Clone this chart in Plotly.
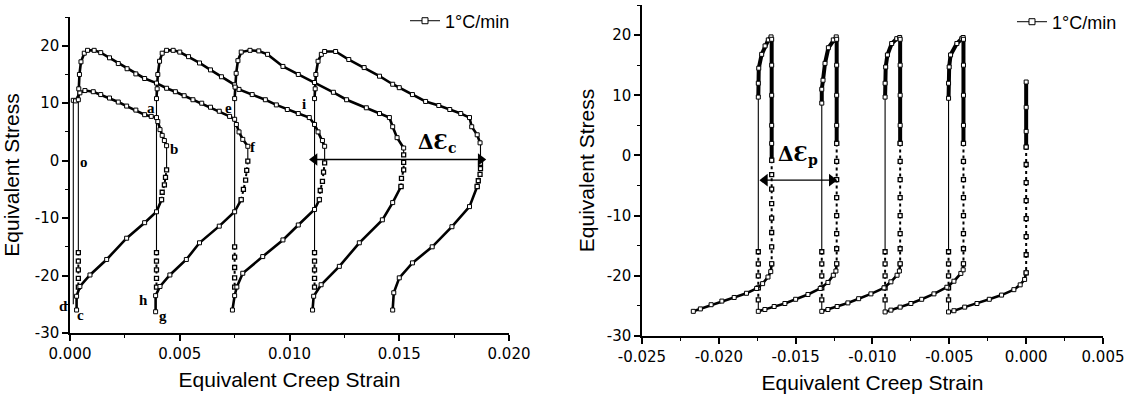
import plotly.graph_objects as go

N = None
# ---------------- Left panel (creep strain > 0) ----------------
# descending branches (stress relaxation), segments separated by None
L_desc_x = [0.00015, 0.00025, 0.00045, 0.00068, 0.00106, 0.0014, 0.0018, 0.0022, 0.00258, 0.0030, 0.0034, 0.0037, 0.00394, 0.0040, 0.0041, 0.0042, 0.0043, 0.0044, N,
            0.00038, 0.0004, 0.00043, 0.0005, 0.00065, 0.0008, 0.0011, 0.0014, 0.0018, 0.0022, 0.0026, 0.0030, 0.0034, 0.00394, 0.0044, 0.0048, 0.0052, 0.0056, 0.0060, 0.0064, 0.0068, 0.00727, 0.0075, 0.00758, 0.0077, 0.00787, 0.0081, N,
            0.00394, 0.00397, 0.0040, 0.00408, 0.0042, 0.0044, 0.0047, 0.0050, 0.0054, 0.0059, 0.0064, 0.0069, 0.0075, 0.0077, 0.0083, 0.0089, 0.0094, 0.0099, 0.0104, 0.0109, 0.01114, 0.0113, 0.0115, 0.0116, N,
            0.0075, 0.00752, 0.00757, 0.00765, 0.0078, 0.0082, 0.0086, 0.0090, 0.0097, 0.0104, 0.01114, 0.0120, 0.0126, 0.0135, 0.0141, 0.01455, 0.0147, 0.0149, 0.0152, N,
            0.01114, 0.01117, 0.0112, 0.0113, 0.01145, 0.0116, 0.0121, 0.0127, 0.0134, 0.0141, 0.0147, 0.0150, 0.0156, 0.0162, 0.0168, 0.0173, 0.0178, 0.0182, 0.0183, 0.01855, 0.01868]
L_desc_y = [10.5, 10.4, 11.8, 12.2, 12.0, 11.5, 10.9, 10.2, 9.5, 8.8, 8.0, 7.7, 7.5, 6.8, 5.4, 4.4, 3.5, 2.6, N,
            10.6, 12.5, 15.0, 17.2, 18.7, 19.2, 19.2, 18.8, 17.9, 16.9, 16.0, 15.1, 14.3, 13.5, 12.6, 12.0, 11.3, 10.6, 10.0, 9.3, 8.6, 7.7, 7.2, 6.3, 5.0, 3.7, 2.5, N,
            10.8, 12.5, 15.0, 17.3, 18.7, 19.2, 19.2, 18.9, 18.1, 17.0, 15.8, 14.6, 13.2, 12.4, 11.5, 10.6, 9.7, 8.9, 8.2, 7.5, 6.3, 5.0, 3.5, 2.5, N,
            10.8, 12.8, 15.2, 17.4, 18.9, 19.2, 19.1, 18.5, 16.4, 15.0, 13.6, 11.9, 10.6, 9.2, 8.2, 7.5, 5.9, 4.0, 2.2, N,
            10.8, 12.5, 15.0, 17.3, 18.5, 19.0, 19.0, 17.6, 16.2, 14.7, 13.3, 12.7, 11.5, 10.3, 9.6, 8.9, 8.2, 7.5, 5.9, 4.5, 3.1]
# rising branches (cooling)
L_rise_x = [0.0003, 0.0003, 0.00045, 0.00091, 0.00167, 0.00258, 0.0034, 0.00394, 0.00417, N,
            0.0039, 0.0039, 0.0041, 0.00455, 0.0053, 0.0059, 0.0068, 0.0075, 0.0078, N,
            0.0074, 0.0075, 0.0076, 0.00787, 0.00878, 0.0097, 0.0104, 0.01114, 0.01136, N,
            0.01105, 0.0111, 0.01144, 0.01227, 0.01318, 0.01423, 0.0147, 0.01508, N,
            0.0147, 0.01475, 0.0150, 0.0156, 0.0165, 0.0174, 0.0182, 0.01855]
L_rise_y = [-26.0, -23.6, -21.9, -19.9, -17.2, -13.5, -10.8, -8.9, -6.8, N,
            -26.3, -23.5, -21.9, -19.9, -17.2, -14.3, -11.4, -8.9, -6.8, N,
            -26.0, -23.5, -22.0, -19.6, -16.7, -13.8, -11.2, -8.5, -6.8, N,
            -26.0, -23.6, -21.6, -18.4, -14.3, -10.3, -7.3, -4.5, N,
            -26.0, -23.0, -20.4, -17.8, -15.0, -11.5, -8.0, -4.5]
# thin solid vertical parts
L_thin_x = [0.00015, 0.00015, N, 0.00038, 0.00038, N, 0.00394, 0.00394, N, 0.0075, 0.0075, N, 0.01114, 0.01114, N,
            0.0044, 0.0044, N, 0.0081, 0.0081, N, 0.0116, 0.0116, N, 0.0152, 0.0152, N, 0.0187, 0.0187]
L_thin_y = [10.5, -25.0, N, 10.6, -16.0, N, 13.5, -16.0, N, 13.2, -15.0, N, 13.6, -16.0, N,
            -1.6, 2.6, N, -0.1, 2.5, N, -0.4, 2.5, N, 1.0, 2.2, N, -0.5, 3.1]
# dotted parts
L_dot_x = [0.00038, 0.00038, 0.00038, 0.00038, 0.00038, N,
           0.00394, 0.00394, 0.00394, 0.00394, 0.00394, N,
           0.0075, 0.0075, 0.0075, 0.0075, 0.0075, N,
           0.01114, 0.01114, 0.01114, 0.01114, 0.01114, N,
           0.00417, 0.0042, 0.0043, 0.00435, 0.0044, N,
           0.0078, 0.0079, 0.0080, 0.00805, 0.0081, N,
           0.01136, 0.0114, 0.0115, 0.01155, 0.0116, N,
           0.01508, 0.0151, 0.0152, 0.0152, 0.0152, N,
           0.01855, 0.0186, 0.01868, 0.0187, 0.0187]
L_dot_y = [-16.0, -17.5, -19.0, -20.5, -22.0, N,
           -16.0, -17.5, -19.0, -20.5, -22.0, N,
           -15.0, -16.8, -18.6, -20.4, -22.0, N,
           -16.0, -17.5, -19.0, -20.5, -22.0, N,
           -6.8, -5.5, -4.2, -2.9, -1.6, N,
           -6.8, -5.0, -3.4, -1.7, -0.1, N,
           -6.8, -5.2, -3.6, -2.0, -0.4, N,
           -4.5, -3.1, -1.6, -0.3, 1.0, N,
           -4.5, -3.5, -2.4, -1.4, -0.5]

# ---------------- Right panel (creep strain < 0) ----------------
R_thick_x = [-0.01743, -0.01743, -0.0174, -0.01721, -0.01699, -0.01678, -0.0166, -0.01656, -0.01656, -0.01656, -0.01656, -0.01656, -0.01656, N,
             -0.0133, -0.0133, -0.01322, -0.01309, -0.01287, -0.01255, -0.01236, -0.01233, -0.01233, -0.01233, -0.01233, -0.01233, N,
             -0.00918, -0.00918, -0.00914, -0.00903, -0.00875, -0.00842, -0.00823, -0.0082, -0.0082, -0.0082, -0.0082, -0.0082, N,
             -0.00505, -0.00505, -0.00501, -0.00492, -0.00451, -0.00419, -0.0041, -0.00408, -0.00408, -0.00408, -0.00408, -0.00408, N,
             0.0, 0.0, 0.0, 0.0]
R_thick_y = [9.7, 12.0, 14.5, 16.8, 18.2, 19.2, 19.7, 19.3, 15.0, 10.0, 5.0, 2.0, -0.8, N,
             8.7, 11.0, 12.5, 15.3, 17.9, 19.2, 19.7, 19.3, 15.0, 10.0, 5.0, 2.0, N,
             9.7, 12.0, 14.7, 16.7, 18.6, 19.4, 19.6, 19.3, 15.0, 10.0, 5.0, 2.0, N,
             9.5, 12.0, 14.7, 16.7, 18.6, 19.4, 19.6, 19.3, 15.0, 10.0, 5.0, 2.0, N,
             12.2, 8.0, 4.0, 1.4]
R_rise_x = [-0.02166, -0.0212, -0.0205, -0.0198, -0.0190, -0.0182, -0.01754, -0.01715, -0.0168, -0.01662, -0.01656, N,
            -0.01743, -0.0170, -0.0164, -0.0157, -0.0150, -0.0142, -0.0134, -0.0129, -0.01255, -0.01238, -0.01233, N,
            -0.0133, -0.0129, -0.0123, -0.0116, -0.0109, -0.0101, -0.00925, -0.0088, -0.0084, -0.00825, -0.0082, N,
            -0.00918, -0.0088, -0.0082, -0.0075, -0.0068, -0.0060, -0.00516, -0.0047, -0.00425, -0.0041, -0.00408, N,
            -0.00505, -0.0047, -0.0040, -0.0032, -0.0024, -0.0016, -0.0008, -0.00039, -0.0001, 0.0]
R_rise_y = [-25.9, -25.5, -24.8, -24.2, -23.6, -22.9, -22.1, -21.3, -20.2, -19.3, -18.0, N,
            -25.9, -25.6, -25.1, -24.6, -23.9, -23.1, -22.1, -21.1, -19.9, -19.2, -18.0, N,
            -25.9, -25.6, -25.1, -24.5, -23.8, -23.0, -22.0, -21.0, -19.9, -19.2, -18.0, N,
            -26.0, -25.7, -25.2, -24.6, -23.9, -23.0, -21.9, -20.9, -19.6, -19.0, -18.0, N,
            -26.0, -25.8, -25.2, -24.6, -23.9, -23.2, -22.3, -21.5, -20.6, -19.5]
R_thin_x = [-0.01743, -0.01743, N, -0.0133, -0.0133, N, -0.00918, -0.00918, N, -0.00505, -0.00505, N,
            -0.01743, -0.01743, N, -0.0133, -0.0133, N, -0.00918, -0.00918, N, -0.00505, -0.00505]
R_thin_y = [9.7, -16.0, N, 8.7, -16.0, N, 9.7, -16.0, N, 9.5, -16.0, N,
            -24.0, -25.9, N, -24.0, -25.9, N, -24.0, -26.0, N, -24.0, -26.0]
R_dot_x = [-0.01743, -0.01743, -0.01743, -0.01743, -0.01743, N,
           -0.0133, -0.0133, -0.0133, -0.0133, -0.0133, N,
           -0.00918, -0.00918, -0.00918, -0.00918, -0.00918, N,
           -0.00505, -0.00505, -0.00505, -0.00505, -0.00505, N,
           -0.01656, -0.01656, -0.01656, -0.01656, -0.01656, -0.01656, -0.01656, -0.01656, N,
           -0.01233, -0.01233, -0.01233, -0.01233, -0.01233, -0.01233, -0.01233, -0.01233, N,
           -0.0082, -0.0082, -0.0082, -0.0082, -0.0082, -0.0082, -0.0082, -0.0082, N,
           -0.00408, -0.00408, -0.00408, -0.00408, -0.00408, -0.00408, -0.00408, -0.00408, N,
           0.0, 0.0, 0.0, 0.0, 0.0, 0.0, 0.0, 0.0]
R_dot_y = [-16.0, -18.0, -20.0, -22.0, -24.0, N,
           -16.0, -18.0, -20.0, -22.0, -24.0, N,
           -16.0, -18.0, -20.0, -22.0, -24.0, N,
           -16.0, -18.0, -20.0, -22.0, -24.0, N,
           -0.8, -3.2, -5.6, -8.0, -10.4, -12.8, -15.2, -18.0, N,
           2.0, -1.0, -4.0, -7.0, -10.0, -13.0, -15.5, -18.0, N,
           2.0, -1.0, -4.0, -7.0, -10.0, -13.0, -15.5, -18.0, N,
           2.0, -1.0, -4.0, -7.0, -10.0, -13.0, -15.5, -18.0, N,
           1.4, -1.5, -4.5, -7.5, -10.5, -13.5, -16.5, -19.5]

# dimension arrows (ends) and their labels
arrow_c_x = [0.01114, 0.01871]
arrow_c_y = [0.2, 0.2]
arrow_p_x = [-0.0170, -0.01265]
arrow_p_y = [-4.1, -4.1]

# ticks
L_xtickvals = [0.0, 0.005, 0.010, 0.015, 0.020]
L_xticktext = ["0.000", "0.005", "0.010", "0.015", "0.020"]
L_xminor = [0.0025, 0.0075, 0.0125, 0.0175]
R_xtickvals = [-0.025, -0.020, -0.015, -0.010, -0.005, 0.0, 0.005]
R_xticktext = ["-0.025", "-0.020", "-0.015", "-0.010", "-0.005", "0.000", "0.005"]
R_xminor = [-0.0225, -0.0175, -0.0125, -0.0075, -0.0025, 0.0025]
ytickvals = [-30, -20, -10, 0, 10, 20]
yticktext = ["-30", "-20", "-10", "0", "10", "20"]
yminor = [-25, -15, -5, 5, 15, 25]

legend_name = "1°C/min"
point_labels = ["o", "a", "b", "c", "d", "e", "f", "g", "h", "i"]
point_label_x = [0.00066, 0.00368, 0.00473, 0.0005, 0.0, 0.00723, 0.00832, 0.00423, 0.00336, 0.01068]
point_label_y = [-0.2, 9.2, 2.1, -26.8, -25.3, 9.1, 2.3, -27.0, -24.2, 9.8]

BLACK = "black"
mk = dict(symbol="square", size=4, color="white", line=dict(color=BLACK, width=1))
mk_small = dict(symbol="square", size=4, color="white", line=dict(color=BLACK, width=1.3))

fig = go.Figure()

def add_panel(xa, ya, desc, rise, thin, dot, desc_w, legend_id):
    fig.add_trace(go.Scatter(x=thin[0], y=thin[1], mode="lines", line=dict(color=BLACK, width=1.1),
                             xaxis=xa, yaxis=ya, showlegend=False, hoverinfo="skip"))
    fig.add_trace(go.Scatter(x=dot[0], y=dot[1], mode="lines+markers",
                             line=dict(color=BLACK, width=2, dash="dot"), marker=mk_small,
                             xaxis=xa, yaxis=ya, showlegend=False))
    fig.add_trace(go.Scatter(x=rise[0], y=rise[1], mode="lines+markers", line=dict(color=BLACK, width=2.6),
                             marker=mk, xaxis=xa, yaxis=ya, showlegend=False))
    fig.add_trace(go.Scatter(x=desc[0], y=desc[1], mode="lines+markers", line=dict(color=BLACK, width=desc_w),
                             marker=mk, xaxis=xa, yaxis=ya, showlegend=False))
    fig.add_trace(go.Scatter(x=[None], y=[None], mode="lines+markers", name=legend_name,
                             line=dict(color=BLACK, width=1), marker=dict(symbol="square", size=6, color="white",
                             line=dict(color=BLACK, width=1)), xaxis=xa, yaxis=ya, legend=legend_id))

add_panel("x", "y", (L_desc_x, L_desc_y), (L_rise_x, L_rise_y), (L_thin_x, L_thin_y), (L_dot_x, L_dot_y), 2.6, "legend")
add_panel("x2", "y2", (R_thick_x, R_thick_y), (R_rise_x, R_rise_y), (R_thin_x, R_thin_y), (R_dot_x, R_dot_y), 4.0, "legend2")

for ax_x, ax_y, xa, ya in [(arrow_c_x, arrow_c_y, "x", "y"), (arrow_p_x, arrow_p_y, "x2", "y2")]:
    fig.add_trace(go.Scatter(x=ax_x, y=ax_y, mode="lines+markers", line=dict(color=BLACK, width=1.3),
                             marker=dict(symbol=["triangle-left", "triangle-right"], size=11, color=BLACK),
                             xaxis=xa, yaxis=ya, showlegend=False, hoverinfo="skip"))

tickfont = dict(family="DejaVu Sans", size=15, color=BLACK)
titlefont = dict(family="Liberation Sans, Arial", size=21, color=BLACK)
common = dict(showline=True, linecolor=BLACK, linewidth=1.5, ticks="outside", ticklen=6, tickwidth=1.5,
              tickcolor=BLACK, showgrid=False, zeroline=False, mirror=False, tickfont=tickfont,
              tickmode="array")

fig.update_layout(
    width=1131, height=403,
    margin=dict(l=70, r=28, t=5, b=67, autoexpand=False),
    paper_bgcolor="white", plot_bgcolor="white",
    font=dict(family="Liberation Sans, Arial", color=BLACK),
    xaxis=dict(domain=[0, 0.425], range=[0, 0.020], anchor="y", tickvals=L_xtickvals, ticktext=L_xticktext,
               minor=dict(tickvals=L_xminor, ticks="outside", ticklen=3, tickcolor=BLACK, tickwidth=1.2),
               title=dict(text="Equivalent Creep Strain", font=titlefont, standoff=11), **common),
    yaxis=dict(domain=[0.00906, 0.9637], range=[-30, 25], anchor="x", tickvals=ytickvals, ticktext=yticktext,
               minor=dict(tickvals=yminor, ticks="outside", ticklen=3, tickcolor=BLACK, tickwidth=1.2),
               title=dict(text="Equivalent Stress", font=titlefont, standoff=9), **common),
    xaxis2=dict(domain=[0.5537, 1], range=[-0.025, 0.005], anchor="y2", tickvals=R_xtickvals, ticktext=R_xticktext,
                minor=dict(tickvals=R_xminor, ticks="outside", ticklen=3, tickcolor=BLACK, tickwidth=1.2),
                title=dict(text="Equivalent Creep Strain", font=titlefont, standoff=11), **common),
    yaxis2=dict(domain=[0, 1], range=[-30, 25], anchor="x2", tickvals=ytickvals, ticktext=yticktext,
                minor=dict(tickvals=yminor, ticks="outside", ticklen=3, tickcolor=BLACK, tickwidth=1.2),
                title=dict(text="Equivalent Stress", font=titlefont, standoff=6), **common),
    legend=dict(x=0.3243, y=0.9516, xanchor="left", yanchor="middle", bgcolor="rgba(0,0,0,0)",
                font=dict(family="Liberation Sans, Arial", size=18, color=BLACK)),
    legend2=dict(x=0.9119, y=0.9486, xanchor="left", yanchor="middle", bgcolor="rgba(0,0,0,0)",
                 font=dict(family="Liberation Sans, Arial", size=18, color=BLACK)),
)

lab_font = dict(family="Liberation Serif, DejaVu Serif", size=15, color=BLACK)
for t, x, y in zip(point_labels, point_label_x, point_label_y):
    fig.add_annotation(x=x, y=y, xref="x", yref="y", text="<b>%s</b>" % t, showarrow=False, font=lab_font,
                       xshift=-7 if t == "d" else 0)

fig.add_annotation(x=0.0167, y=3.0, xref="x", yref="y", text="<b>ΔƐ<sub>c</sub></b>", showarrow=False,
                   font=dict(family="DejaVu Serif", size=20, color=BLACK))
fig.add_annotation(x=-0.01484, y=0.0, xref="x2", yref="y2", text="<b>ΔƐ<sub>p</sub></b>", showarrow=False,
                   font=dict(family="DejaVu Serif", size=20, color=BLACK))

fig.write_html("out.html", config={"displayModeBar": False},
               post_script="document.body.style.margin='0px';")
